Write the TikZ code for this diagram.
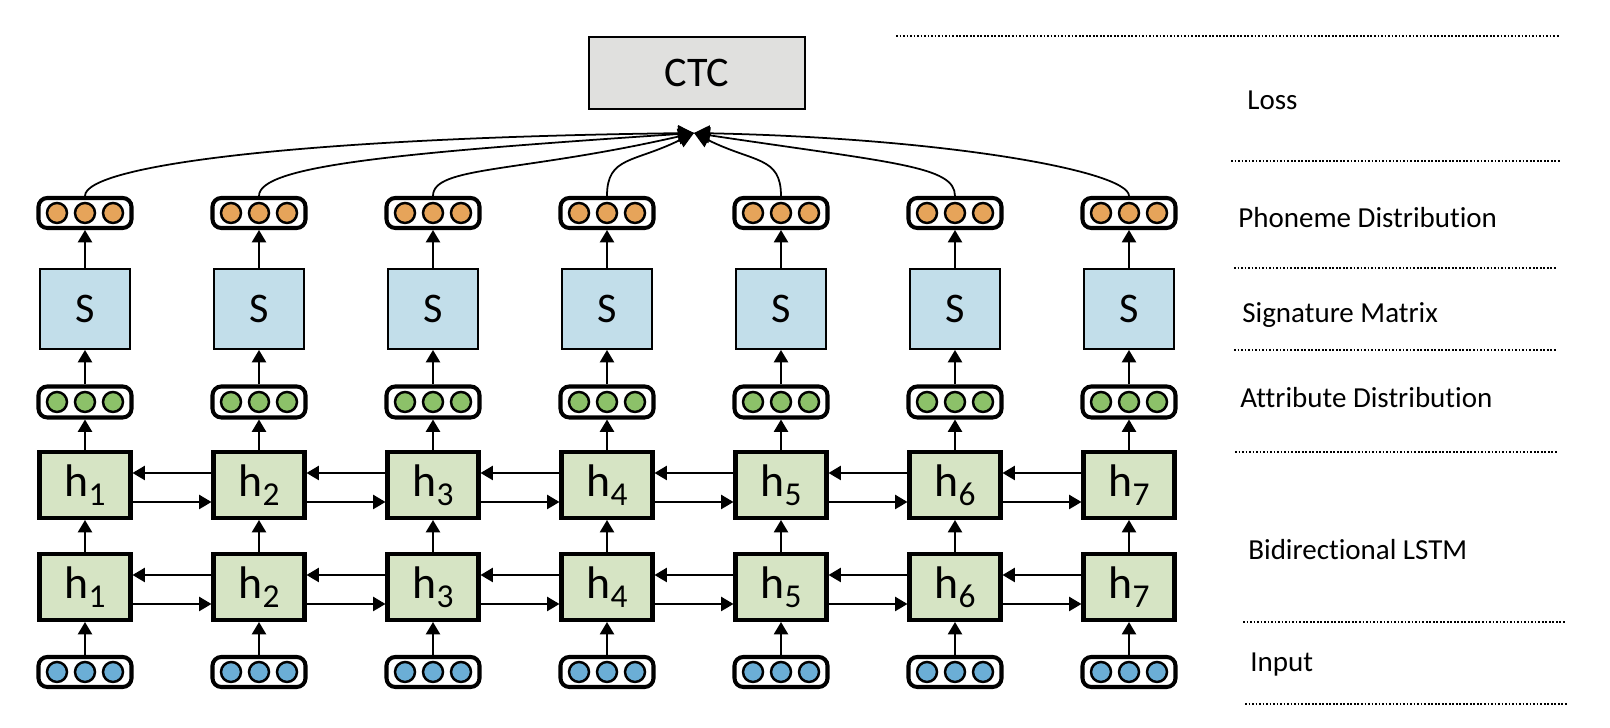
\documentclass[tikz,border=0pt]{standalone}
\usepackage{fontspec}
\setmainfont{Carlito}[Ligatures=NoCommon]
\usetikzlibrary{arrows.meta}

\definecolor{ctcgray}{RGB}{224,224,222}
\definecolor{sigblue}{RGB}{194,222,234}
\definecolor{lstmgreen}{RGB}{214,228,196}
\definecolor{phonorange}{RGB}{230,164,90}
\definecolor{attgreen}{RGB}{140,193,105}
\definecolor{inblue}{RGB}{107,174,214}

\newcommand{\hcell}[1]{h\raisebox{-5pt}{\fontsize{19}{19}\selectfont #1}}

\tikzset{
  vecbox/.style={draw, line width=2.3pt, rounded corners=5pt, fill=white,
    minimum width=1.86cm, minimum height=0.6cm, inner sep=0pt},
  sbox/.style={draw, line width=1.1pt, fill=sigblue, minimum width=1.8cm,
    minimum height=1.6cm, font=\fontsize{24}{24}\selectfont},
  hbox/.style={draw, line width=2.3pt, fill=lstmgreen, minimum width=1.82cm,
    minimum height=1.32cm, font=\fontsize{26}{26}\selectfont},
  dotc/.style={draw, line width=1.4pt},
  layer/.style={anchor=base west, inner sep=0pt, font=\fontsize{16.5}{16.5}\selectfont},
  sepline/.style={line width=1pt, dash pattern=on 1pt off 1pt},
  tolss/.style={line width=1pt, -{Triangle[length=9pt,width=9pt]}},
  >={Triangle[length=7pt,width=8pt]}
}

\begin{document}
\begin{tikzpicture}
\useasboundingbox (0,0) rectangle (32.2,14.56);

\node[draw, line width=1.1pt, fill=ctcgray, minimum width=4.32cm, minimum height=1.44cm,
  font=\fontsize{24}{24}\selectfont] (ctc) at (13.94,13.1) {CTC};
\coordinate (loss) at (13.88,11.9);

\foreach \i in {1,...,7}{
  \pgfmathsetmacro{\x}{1.70+3.48*(\i-1)}
  \node[vecbox] (in\i) at (\x,1.12) {};
  \node[hbox] (hl\i) at (\x,2.82) {\hcell{\i}};
  \node[hbox] (hu\i) at (\x,4.86) {\hcell{\i}};
  \node[vecbox, minimum height=0.62cm] (att\i) at (\x,6.52) {};
  \node[sbox] (sig\i) at (\x,8.38) {S};
  \node[vecbox] (ph\i) at (\x,10.30) {};
  \foreach \dx in {-0.56,0,0.56}{
    \draw[dotc, fill=inblue] ([xshift=\dx cm]in\i.center) circle (0.2);
    \draw[dotc, fill=attgreen] ([xshift=\dx cm]att\i.center) circle (0.2);
    \draw[dotc, fill=phonorange] ([xshift=\dx cm]ph\i.center) circle (0.2);
  }
  \draw[->, line width=1.1pt] (in\i) -- (hl\i);
  \draw[->, line width=1.1pt] (hl\i) -- (hu\i);
  \draw[->, line width=1.1pt] (hu\i) -- (att\i);
  \draw[->, line width=1.1pt] (att\i) -- (sig\i);
  \draw[->, line width=1.1pt] (sig\i) -- (ph\i);
}

\foreach \i in {1,...,6}{
  \pgfmathtruncatemacro{\j}{\i+1}
  \draw[->, line width=1.1pt] ([yshift=0.24cm]hu\j.west) -- ([yshift=0.24cm]hu\i.east);
  \draw[->, line width=1.1pt] ([yshift=-0.34cm]hu\i.east) -- ([yshift=-0.34cm]hu\j.west);
  \draw[->, line width=1.1pt] ([yshift=0.24cm]hl\j.west) -- ([yshift=0.24cm]hl\i.east);
  \draw[->, line width=1.1pt] ([yshift=-0.34cm]hl\i.east) -- ([yshift=-0.34cm]hl\j.west);
}

\draw[tolss] (ph1.north) .. controls +(0,0.6) and +(-8,-0.1) .. (loss);
\draw[tolss] (ph2.north) .. controls +(0,0.6) and +(-6,-0.4) .. (loss);
\draw[tolss] (ph3.north) .. controls +(0,0.6) and +(-3.5,-0.8) .. (loss);
\draw[tolss] (ph4.north) .. controls +(0,0.8) and +(-1.2,-0.6) .. (loss);
\draw[tolss] (ph5.north) .. controls +(0,0.8) and +(1.2,-0.6) .. (loss);
\draw[tolss] (ph6.north) .. controls +(0,0.6) and +(4,-0.6) .. (loss);
\draw[tolss] (ph7.north) .. controls +(0,0.5) and +(5,-0.1) .. (loss);

\draw[sepline] (17.92,13.84) -- (31.18,13.84);
\draw[sepline] (24.62,11.34) -- (31.22,11.34);
\draw[sepline] (24.68,9.20) -- (31.14,9.20);
\draw[sepline] (24.68,7.56) -- (31.14,7.56);
\draw[sepline] (24.70,5.52) -- (31.14,5.52);
\draw[sepline] (24.86,2.12) -- (31.30,2.12);
\draw[sepline] (24.90,0.48) -- (31.34,0.48);

\node[layer] (lloss) at (24.94,12.36) {Loss};
\node[layer] (lphon) at (24.76,10.0) {Phoneme Distribution};
\node[layer] (lsig) at (24.84,8.10) {Signature Matrix};
\node[layer] (latt) at (24.80,6.40) {Attribute Distribution};
\node[layer] (llstm) at (24.96,3.36) {Bidirectional LSTM};
\node[layer] (linput) at (25.0,1.12) {Input};
\end{tikzpicture}
\end{document}
